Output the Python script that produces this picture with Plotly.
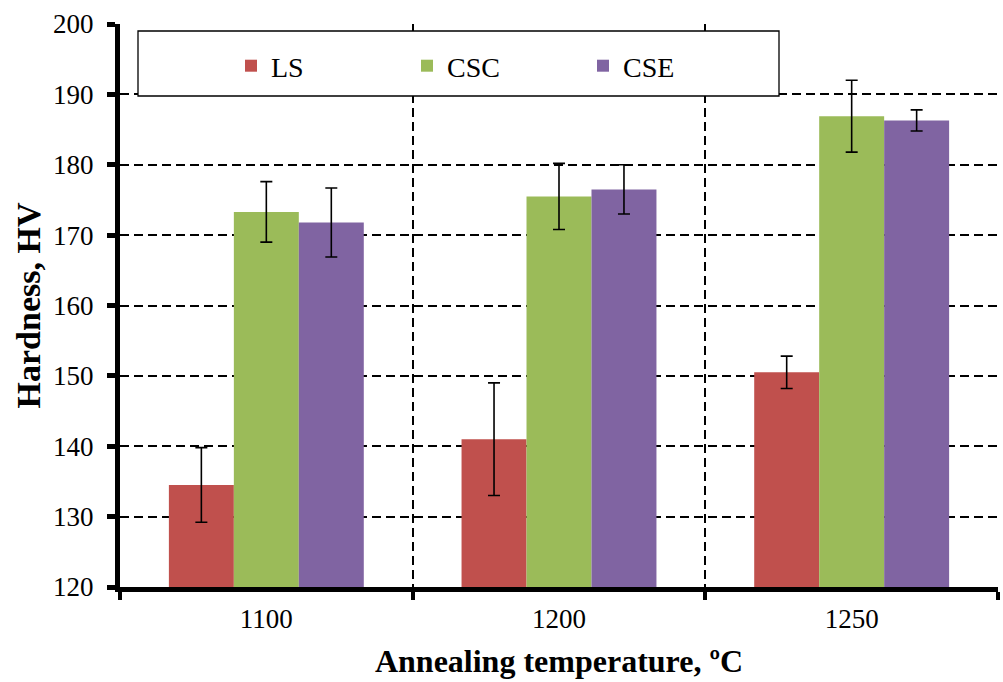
import plotly.graph_objects as go

categories = ["1100", "1200", "1250"]
series_names = ["LS", "CSC", "CSE"]
ls_values = [134.5, 141.0, 150.5]
ls_errors = [5.3, 8.0, 2.3]
csc_values = [173.3, 175.5, 186.9]
csc_errors = [4.3, 4.7, 5.1]
cse_values = [171.8, 176.5, 186.3]
cse_errors = [4.9, 3.5, 1.5]
y_ticks = [120, 130, 140, 150, 160, 170, 180, 190, 200]

colors = ["#C0504D", "#9BBB59", "#8064A2"]
FONT = "'Liberation Serif', 'Times New Roman', serif"

fig = go.Figure()
for name, vals, errs, col in zip(series_names,
                                 [ls_values, csc_values, cse_values],
                                 [ls_errors, csc_errors, cse_errors],
                                 colors):
    fig.add_trace(go.Bar(
        x=categories, y=vals, name=name,
        marker=dict(color=col, line=dict(width=0)),
        error_y=dict(type="data", array=errs, color="black", thickness=1.6, width=6),
    ))

W, H = 1003, 682
ml, mr, mt, mb = 120, 5, 24, 95
pw = W - ml - mr
ph = H - mt - mb

def px_x(p):
    return (p - ml) / pw

def px_y(p):
    return (H - mb - p) / ph

fig.update_layout(
    width=W, height=H,
    margin=dict(l=ml, r=mr, t=mt, b=mb, pad=0),
    paper_bgcolor="white", plot_bgcolor="white",
    barmode="group", bargap=0.334, bargroupgap=0,
    font=dict(family=FONT, size=27, color="black"),
    showlegend=True,
    legend=dict(
        orientation="h", x=px_x(231), xanchor="left", y=px_y(66), yanchor="middle",
        bgcolor="rgba(0,0,0,0)", borderwidth=0,
        entrywidth=131, entrywidthmode="pixels",
        font=dict(family=FONT, size=28, color="black"),
        itemwidth=30, traceorder="normal",
    ),
    xaxis=dict(
        type="category", tickson="boundaries",
        showline=True, linecolor="black", linewidth=5,
        ticks="outside", ticklen=8, tickwidth=4, tickcolor="black",
        ticklabelstandoff=4,
        showgrid=True, gridcolor="black", gridwidth=1.5, griddash="9px,5px",
        tickfont=dict(family=FONT, size=27, color="black"),
        title=dict(text="<b>Annealing temperature, ºC</b>",
                   font=dict(family=FONT, size=32, color="black"), standoff=18),
    ),
    yaxis=dict(
        range=[120, 200], tickmode="array", tickvals=y_ticks,
        showline=True, linecolor="black", linewidth=5,
        ticks="outside", ticklen=8, tickwidth=5, tickcolor="black",
        ticklabelstandoff=8,
        showgrid=True, gridcolor="black", gridwidth=1.5, griddash="9px,5px",
        zeroline=False,
        tickfont=dict(family=FONT, size=27, color="black"),
        title=dict(text="<b>Hardness, HV</b>",
                   font=dict(family=FONT, size=34, color="black"), standoff=4),
    ),
    shapes=[dict(
        type="rect", xref="paper", yref="paper",
        x0=px_x(138), x1=px_x(779), y0=px_y(96), y1=px_y(31),
        fillcolor="white", line=dict(color="black", width=1.3), layer="above",
    )],
)

fig.write_html("out.html")
